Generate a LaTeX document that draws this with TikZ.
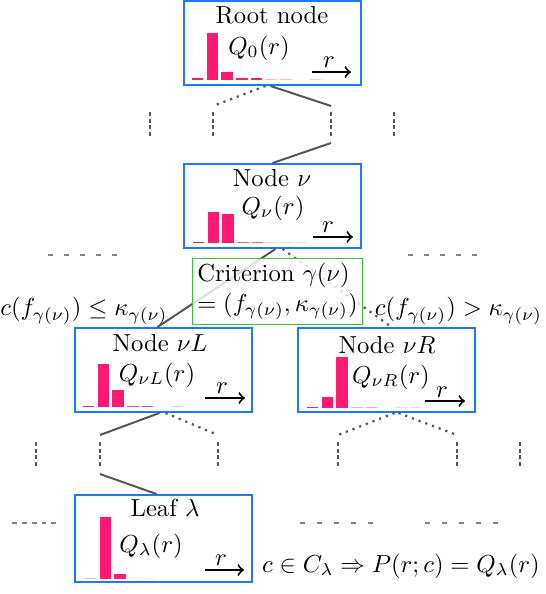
\documentclass[tikz,border=0pt]{standalone}
\usetikzlibrary{calc}
\definecolor{boxblue}{RGB}{30,120,255}
\definecolor{barpink}{RGB}{255,25,115}
\definecolor{critgreen}{RGB}{50,200,50}
\definecolor{edgegray}{RGB}{85,85,85}
\newcommand\myhist[3]{%
  \foreach \h/\o [count=\i from 0] in {#3}{%
    \fill[barpink, opacity=\o] ({#1+\i*14.7},#2) rectangle ++(11.5,-\h);}%
}
\begin{document}
\begin{tikzpicture}[x=0.406pt,y=-0.406pt,
  treebox/.style={draw=boxblue, line width=0.8pt, minimum width=71.9pt, minimum height=34.1pt, inner sep=0pt},
  tall/.style={minimum height=35.3pt},
  solidedge/.style={draw=edgegray, line width=0.8pt},
  dotedge/.style={draw=edgegray, line width=0.9pt, dash pattern=on 0.9pt off 2pt},
  vdash/.style={draw=edgegray, line width=0.8pt, dash pattern=on 1.6pt off 1.1pt},
  hdash/.style={draw=gray, line width=0.6pt},
  raxis/.style={->, line width=0.8pt},
  critfill/.style={fill=white, fill opacity=0.8, text opacity=1, align=left, inner sep=1.6pt},
  critline/.style={draw=critgreen, line width=0.5pt},
  txt/.style={inner sep=0pt}]
\useasboundingbox (0,0) rectangle (546,594);

% boxes (nodes)
\node[treebox] (root) at (272.5,43) {};
\node[treebox] (nu) at (272.5,206) {};
\node[treebox] (nuL) at (163.5,370) {};
\node[treebox] (nuR) at (386.5,370) {};
\node[treebox,tall] (leaf) at (163.5,538.5) {};

% coordinates for free ends
\coordinate (a1) at (150,112); \coordinate (a1b) at (150,138);
\coordinate (a2t) at (213,106); \coordinate (a2) at (213,112); \coordinate (a2b) at (213,138);
\coordinate (a3t) at (331,106); \coordinate (a3) at (331,112); \coordinate (a3b) at (331,138);
\coordinate (a3c) at (331,143);
\coordinate (a4) at (394,112); \coordinate (a4b) at (394,138);

\coordinate (b1) at (36,442); \coordinate (b1b) at (36,468);
\coordinate (b2t) at (100,435); \coordinate (b2) at (100,442); \coordinate (b2b) at (100,468); \coordinate (b2c) at (100,474);
\coordinate (b3t) at (218,435); \coordinate (b3) at (218,442); \coordinate (b3b) at (218,468);
\coordinate (b4t) at (338,435); \coordinate (b4) at (338,442); \coordinate (b4b) at (338,468);
\coordinate (b5t) at (457,435); \coordinate (b5) at (457,442); \coordinate (b5b) at (457,468);
\coordinate (b6) at (520,442); \coordinate (b6b) at (520,468);

% connectors level 0 -> 1
\draw[dotedge] ($(root.south)+(-7,0)$) -- (a2t);
\draw[solidedge] ($(root.south)+(-2,0)$) -- (a3t);
\foreach \p in {a1,a2,a3,a4}{\draw[vdash] (\p) -- (\p b);}
\draw[solidedge] (a3c) -- (nu.north);

% connectors nu -> children
\draw[solidedge] ($(nu.south)+(3,0)$) -- ($(nuL.north)+(-6,0)$);
\draw[dotedge] ($(nu.south)+(10,0)$) -- ($(nuR.north)+(5,0)$);

% connectors level 2 -> 3
\draw[solidedge] ($(nuL.south)+(-4,0)$) -- (b2t);
\draw[dotedge] ($(nuL.south)+(2,0)$) -- (b3t);
\draw[dotedge] ($(nuR.south)+(8,0)$) -- (b4t);
\draw[dotedge] ($(nuR.south)+(12,0)$) -- (b5t);
\foreach \p in {b1,b2,b3,b4,b5,b6}{\draw[vdash] (\p) -- (\p b);}
\draw[solidedge] (b2c) -- ($(leaf.north)+(-7,0)$);

% horizontal ellipsis dashes
\draw[hdash, dash pattern=on 2pt off 4.5pt] (48,255) -- (117,255);
\draw[hdash, dash pattern=on 2pt off 4.5pt] (408,255) -- (477,255);
\draw[hdash, dash pattern=on 2pt off 2pt] (12,523) -- (57,523);
\draw[hdash, dash pattern=on 2pt off 4.9pt] (300,523) -- (373,523);
\draw[hdash, dash pattern=on 2pt off 4.9pt] (425,523) -- (499,523);

% histograms
\myhist{192}{80}{2/1, 47/1, 8/1, 2/1, 2/1, 1.5/.3, 1.5/.3, 0/0, 1.5/.25, 0/0}
\myhist{193}{243}{1.5/1, 31/1, 29/1, 1.5/.75, 1.5/.75, 1/.2, 1/.2, 1/.15}
\myhist{83}{407}{1.5/1, 43/1, 17/1, 1.5/.8, 1.5/.8, 0/0, 1/.25, 0/0}
\myhist{307}{408}{1.5/1, 11/1, 51/1, 1.5/.4, 1.5/.4, 0/0, 1/.2, 1/.2}
\myhist{85}{579}{1.5/.35, 62/1, 5/1, 1/.1, 1/.1}

% texts in boxes
\node[txt] (t0) at (272,15) {Root node};
\node[txt] (q0) at (259,48) {$Q_0(r)$};
\node[txt] (t1) at (272,178) {Node $\nu$};
\node[txt] (q1) at (273,208) {$Q_\nu(r)$};
\node[txt] (t2) at (160,343) {Node $\nu L$};
\node[txt] (q2) at (157,375) {$Q_{\nu L}(r)$};
\node[txt] (t3) at (387,345) {Node $\nu R$};
\node[txt] (q3) at (391,377) {$Q_{\nu R}(r)$};
\node[txt] (t4) at (165,508) {Leaf $\lambda$};
\node[txt] (q4) at (151,546) {$Q_\lambda(r)$};

% r axes
\coordinate (r0a) at (312,72); \coordinate (r0b) at (351,72);
\draw[raxis] (r0a) -- (r0b); \node[txt] (r0) at (329,62) {$r$};
\coordinate (r1a) at (313,237); \coordinate (r1b) at (353,237);
\draw[raxis] (r1a) -- (r1b); \node[txt] (r1) at (328,227) {$r$};
\coordinate (r2a) at (205,398); \coordinate (r2b) at (245,398);
\draw[raxis] (r2a) -- (r2b); \node[txt] (r2) at (222,388) {$r$};
\coordinate (r3a) at (425,401); \coordinate (r3b) at (465,401);
\draw[raxis] (r3a) -- (r3b); \node[txt] (r3) at (442,392) {$r$};
\coordinate (r4a) at (205,570); \coordinate (r4b) at (244,570);
\draw[raxis] (r4a) -- (r4b); \node[txt] (r4) at (221,560) {$r$};

% criterion
\node[critfill] (crit) at (277.5,291.5) {Criterion $\gamma(\nu)$\\$= (f_{\gamma(\nu)},\kappa_{\gamma(\nu)})$};
\draw[critline] (crit.south west) rectangle (crit.north east);
\node[txt] (lab L) at (84,311) {$c(f_{\gamma(\nu)})\leq\kappa_{\gamma(\nu)}$};
\node[txt] (lab R) at (458.5,311) {$c(f_{\gamma(\nu)})>\kappa_{\gamma(\nu)}$};

% leaf rule
\node[txt] (rule) at (401,566) {$c\in C_\lambda\Rightarrow P(r;c)=Q_\lambda(r)$};
\end{tikzpicture}
\end{document}
